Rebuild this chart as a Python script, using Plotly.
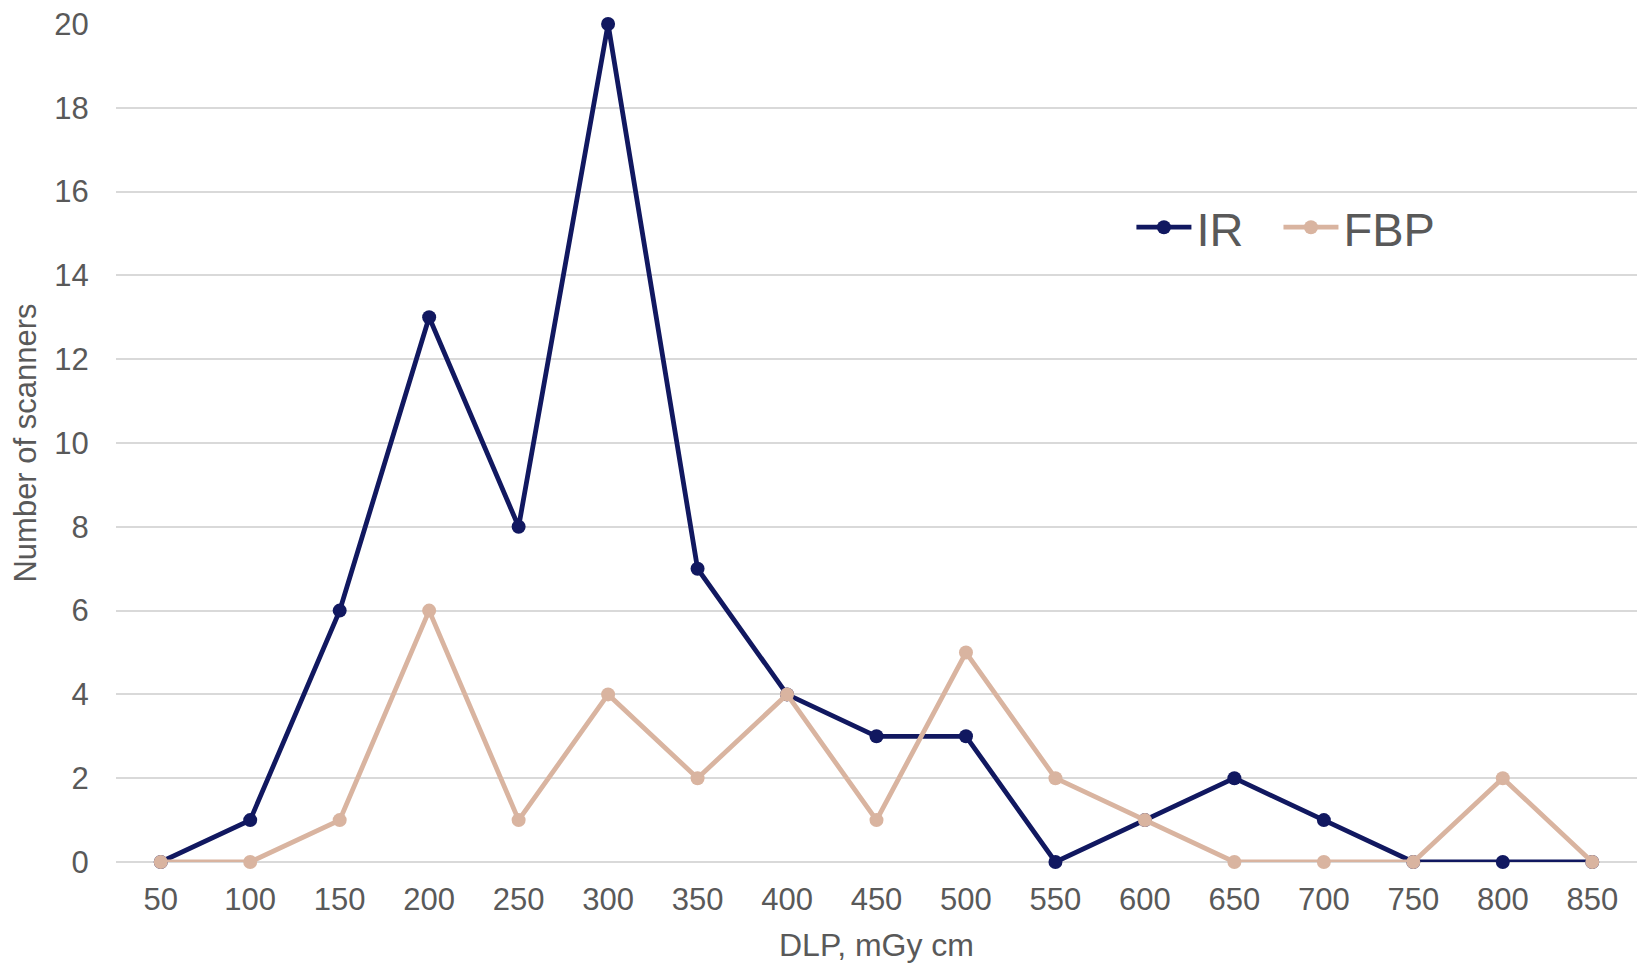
import plotly.graph_objects as go

dlp = ["50", "100", "150", "200", "250", "300", "350", "400", "450",
       "500", "550", "600", "650", "700", "750", "800", "850"]
ir = [0, 1, 6, 13, 8, 20, 7, 4, 3, 3, 0, 1, 2, 1, 0, 0, 0]
fbp = [0, 0, 1, 6, 1, 4, 2, 4, 1, 5, 2, 1, 0, 0, 0, 2, 0]

IR_COLOR = "#111860"
FBP_COLOR = "#d9b4a0"
TXT = "#595959"
FONT = "Liberation Sans, Arial, sans-serif"
PAD = "\u00a0\u00a0\u200a"

fig = go.Figure()
fig.add_trace(go.Scatter(x=dlp, y=ir, name="IR" + PAD, mode="lines+markers",
                         line=dict(color=IR_COLOR, width=4.8),
                         marker=dict(size=14, color=IR_COLOR),
                         cliponaxis=False))
fig.add_trace(go.Scatter(x=dlp, y=fbp, name="FBP", mode="lines+markers",
                         line=dict(color=FBP_COLOR, width=4.8),
                         marker=dict(size=14, color=FBP_COLOR),
                         cliponaxis=False))

fig.update_layout(
    width=1646, height=963,
    margin=dict(l=116, r=9, t=24, b=101),
    paper_bgcolor="white", plot_bgcolor="white",
    font=dict(family=FONT, color=TXT, size=31),
    legend=dict(orientation="h", x=0.6676, y=0.757, xanchor="left", yanchor="middle",
                font=dict(size=47, color=TXT), bgcolor="rgba(0,0,0,0)",
                itemwidth=55),
    xaxis=dict(type="category", range=[-0.5, 16.5], showgrid=False, automargin=False,
               showline=False, zeroline=False, ticks="outside", ticklen=10,
               tickcolor="rgba(0,0,0,0)",
               tickfont=dict(size=31, color=TXT),
               title=dict(text="DLP, mGy cm", font=dict(size=32, color=TXT), standoff=17)),
    yaxis=dict(range=[0, 20], dtick=2, showgrid=True, gridcolor="#d9d9d9", gridwidth=2,
               automargin=False,
               zeroline=True, zerolinecolor="#d9d9d9", zerolinewidth=2, showline=False,
               ticks="outside", ticklen=20, tickcolor="rgba(0,0,0,0)",
               tickfont=dict(size=31, color=TXT),
               title=dict(text="Number of scanners", font=dict(size=31, color=TXT), standoff=8)),
)

fig.write_html("out.html")
